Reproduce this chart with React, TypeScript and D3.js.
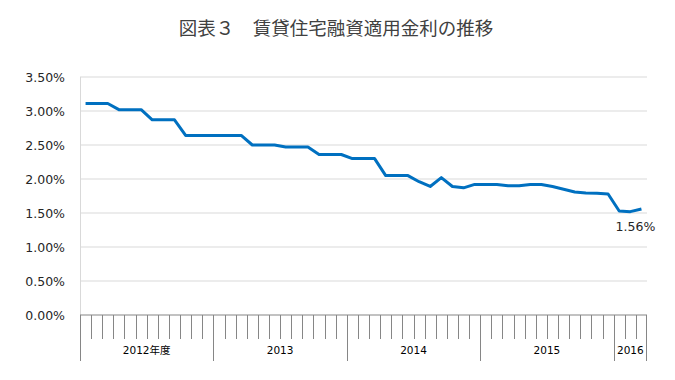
import React from "react";
import * as d3 from "d3";

const groups = ["2012年度", "2013", "2014", "2015", "2016"];
const groupMonths = [12, 12, 12, 12, 3];
const rates = [
  3.11, 3.11, 3.11, 3.02, 3.02, 3.02, 2.87, 2.87, 2.87, 2.64, 2.64, 2.64,
  2.64, 2.64, 2.64, 2.5, 2.5, 2.5, 2.47, 2.47, 2.47, 2.36, 2.36, 2.36,
  2.3, 2.3, 2.3, 2.05, 2.05, 2.05, 1.96, 1.89, 2.02, 1.89, 1.87, 1.92,
  1.92, 1.92, 1.9, 1.9, 1.92, 1.92, 1.89, 1.85, 1.81, 1.795, 1.79, 1.78,
  1.53, 1.52, 1.56,
];
const yTicks = [0, 0.5, 1, 1.5, 2, 2.5, 3, 3.5];
const title = "図表３　賃貸住宅融資適用金利の推移";
const lastLabel = "1.56%";

const categories: string[] = [];
groups.forEach((g, gi) => {
  for (let m = 0; m < groupMonths[gi]; m++) categories.push(`${g}-${m + 1}`);
});

export default function App() {
  const W = 675, H = 380;
  const left = 80, right = 647, top = 77, bottom = 315;
  const x = d3.scaleBand<string>().domain(categories).range([left, right]).padding(0);
  const y = d3.scaleLinear().domain([0, 3.5]).range([bottom, top]);
  const line = d3
    .line<number>()
    .x((_, i) => (x(categories[i]) as number) + x.bandwidth() / 2)
    .y((d) => y(d));

  const groupStarts: number[] = [];
  let acc = 0;
  groupMonths.forEach((n) => {
    groupStarts.push(acc);
    acc += n;
  });
  const majorIdx = new Set(groupStarts);
  const font = "'DejaVu Sans', 'Noto Sans CJK JP', sans-serif";
  const lastI = rates.length - 1;
  const lastX = (x(categories[lastI]) as number) + x.bandwidth() / 2;

  return (
    <svg width={W} height={H} style={{ position: "absolute", left: 0, top: 0, background: "#fff" }}>
      <text x={336} y={35} textAnchor="middle" fontSize={18.5} fill="#404040" fontFamily="'Noto Sans CJK JP', sans-serif">
        {title}
      </text>
      {yTicks.map((t) => (
        <g key={t}>
          {t > 0 && <line x1={left} x2={right} y1={y(t)} y2={y(t)} stroke="#d9d9d9" strokeWidth={1} />}
          <text x={65} y={y(t)} dy="0.36em" textAnchor="end" fontSize={12.5} fill="#262626" fontFamily={font}>
            {d3.format(".2f")(t) + "%"}
          </text>
        </g>
      ))}
      <line x1={left + 0.5} x2={left + 0.5} y1={top} y2={bottom} stroke="#d9d9d9" />
      <path d={line(rates) || ""} fill="none" stroke="#0070C0" strokeWidth={3} strokeLinejoin="round" strokeLinecap="butt" />
      <line x1={left} x2={right} y1={bottom} y2={bottom} stroke="#868686" strokeWidth={1.2} />
      {categories.map((c, i) => {
        const xx = Math.round(x(c) as number) + 0.5;
        const major = majorIdx.has(i);
        return <line key={c} x1={xx} x2={xx} y1={bottom} y2={major ? 361 : 339} stroke="#868686" strokeWidth={1} />;
      })}
      <line x1={right - 0.5} x2={right - 0.5} y1={bottom} y2={361} stroke="#868686" strokeWidth={1} />
      {groups.map((g, gi) => {
        const s = x(categories[groupStarts[gi]]) as number;
        const e = s + groupMonths[gi] * x.bandwidth();
        return (
          <text key={g} x={(s + e) / 2} y={354} textAnchor="middle" fontSize={10.5} fill="#000" fontFamily={font}>
            {g}
          </text>
        );
      })}
      <text x={lastX - 6} y={231} textAnchor="middle" fontSize={12.5} fill="#262626" fontFamily={font}>
        {lastLabel}
      </text>
    </svg>
  );
}
